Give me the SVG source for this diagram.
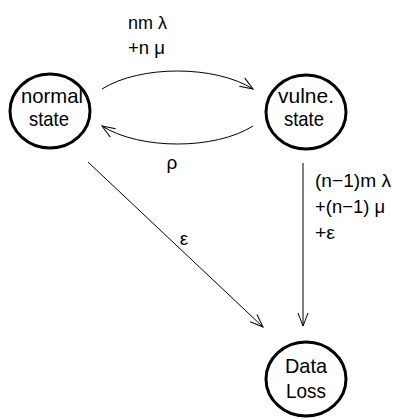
<svg xmlns="http://www.w3.org/2000/svg" width="393" height="419" viewBox="0 0 393 419">
<defs>
<style>
.node{fill:none;stroke:#000;stroke-width:3}
.nt{font-family:"Liberation Sans",Arial,sans-serif;font-size:21px;fill:#000;text-anchor:middle}
.lb{font-family:"Liberation Sans",Arial,sans-serif;font-size:19px;fill:#000}
.edge{fill:none;stroke:#000;stroke-width:1}
</style>
<marker id="arr" markerUnits="userSpaceOnUse" markerWidth="16" markerHeight="14" viewBox="-14 -7 16 14" refX="0" refY="0" orient="auto">
<path d="M-13,-5 L0,0 L-13,5" fill="none" stroke="#000" stroke-width="1"/>
</marker>
</defs>
<rect width="393" height="419" fill="#fff"/>
<g id="connectors">
<path class="edge" d="M102,89 C140,65 215,65 253,89" marker-end="url(#arr)"/>
<path class="edge" d="M253,126 C215,150 140,150 102,126" marker-end="url(#arr)"/>
<path class="edge" d="M88,162 L263,327" marker-end="url(#arr)"/>
<path class="edge" d="M303,163 L303,326" marker-end="url(#arr)"/>
<text class="lb" x="128" y="29" textLength="39" lengthAdjust="spacingAndGlyphs">nm λ</text>
<text class="lb" x="128" y="54" textLength="37" lengthAdjust="spacingAndGlyphs">+n μ</text>
<text class="lb" x="172" y="169" text-anchor="middle">ρ</text>
<text class="lb" x="184" y="245" text-anchor="middle">ε</text>
<text class="lb" x="315" y="187" textLength="76" lengthAdjust="spacingAndGlyphs">(n−1)m λ</text>
<text class="lb" x="315" y="213" textLength="70" lengthAdjust="spacingAndGlyphs">+(n−1) μ</text>
<text class="lb" x="315" y="239" textLength="20" lengthAdjust="spacingAndGlyphs">+ε</text>
</g>
<g id="normal">
<ellipse class="node" cx="50" cy="111" rx="40" ry="37"/>
<text class="nt" x="52" y="103" textLength="62" lengthAdjust="spacingAndGlyphs">normal</text>
<text class="nt" x="49" y="126" textLength="40" lengthAdjust="spacingAndGlyphs">state</text>
</g>
<g id="vulne">
<ellipse class="node" cx="306" cy="112" rx="40" ry="37"/>
<text class="nt" x="306" y="103" textLength="56" lengthAdjust="spacingAndGlyphs">vulne.</text>
<text class="nt" x="304" y="126" textLength="40" lengthAdjust="spacingAndGlyphs">state</text>
</g>
<g id="dataloss">
<ellipse class="node" cx="306" cy="379" rx="40" ry="37"/>
<text class="nt" x="306" y="373" textLength="42" lengthAdjust="spacingAndGlyphs">Data</text>
<text class="nt" x="306" y="398" textLength="40" lengthAdjust="spacingAndGlyphs">Loss</text>
</g>
</svg>
